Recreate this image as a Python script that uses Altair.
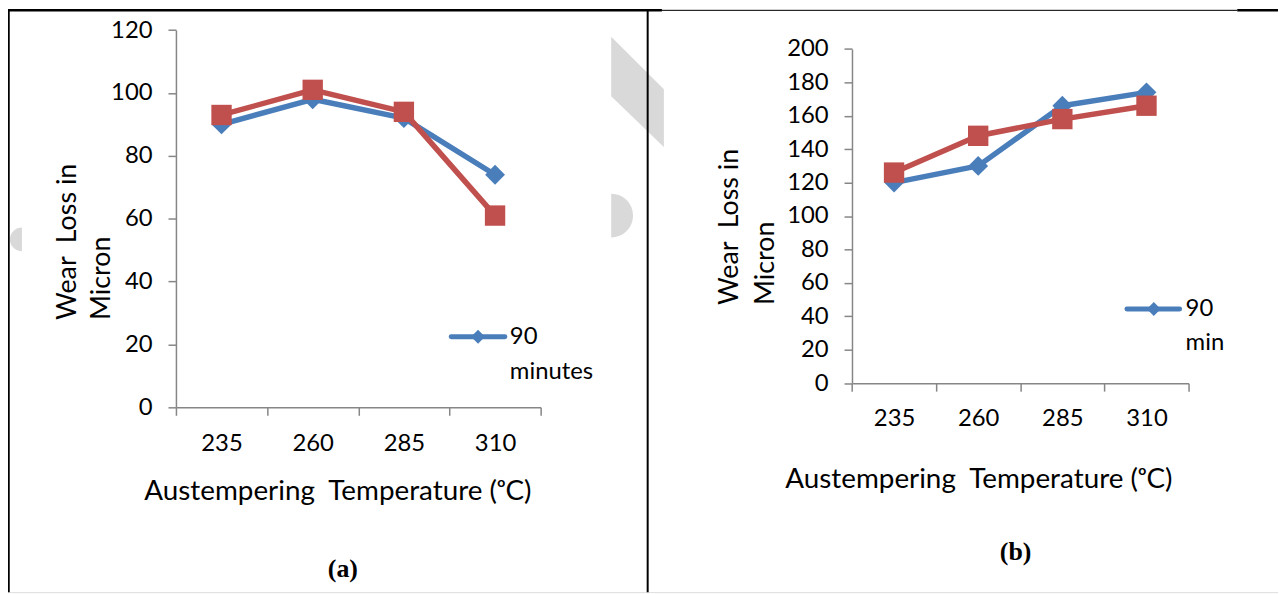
import math
import altair as alt
import pandas as pd

# ---------------- data ----------------
temps = ["235", "260", "285", "310"]
series_names = ["90 minutes", "second series"]
wear_a_90 = [90, 98, 92, 74]
wear_a_2 = [93, 101, 94, 61]
wear_b_90 = [120, 130, 166, 174]
wear_b_2 = [126, 148, 158, 166]
yticks_a = [0, 20, 40, 60, 80, 100, 120]
yticks_b = [0, 20, 40, 60, 80, 100, 120, 140, 160, 180, 200]

BLUE = "#4A7EBB"
RED = "#C0504D"
AXIS_GRAY = "#868686"
WM = "#d9d9d9"
FONT = "Lato"
LBL = 24

W, H = 1278, 586  # view size (page minus 8px margin)


def panel(v90, v2, ydom, yvals, xrange, yrange, xoff, yoff):
    df = pd.DataFrame({
        "temp": temps + temps,
        "wear": v90 + v2,
        "series": [series_names[0]] * 4 + [series_names[1]] * 4,
    })
    x = alt.X("temp:N", sort=temps, bandPosition=0.5,
              scale=alt.Scale(type="band", domain=temps, range=xrange,
                              paddingInner=0, paddingOuter=0),
              axis=alt.Axis(orient="bottom", offset=xoff, tickBand="extent",
                            labelAngle=0, labelFont=FONT, labelFontSize=LBL,
                            labelColor="#000000", labelPadding=16,
                            tickSize=8, tickWidth=1.5, tickColor=AXIS_GRAY,
                            domainColor=AXIS_GRAY, domainWidth=1.5,
                            grid=False, title=""))
    y = alt.Y("wear:Q",
              scale=alt.Scale(domain=ydom, range=yrange, nice=False, zero=True),
              axis=alt.Axis(orient="left", offset=yoff, values=yvals,
                            labelFont=FONT, labelFontSize=LBL,
                            labelColor="#000000", labelPadding=16,
                            tickSize=8, tickWidth=1.5, tickColor=AXIS_GRAY,
                            domainColor=AXIS_GRAY, domainWidth=1.5,
                            grid=False, title=""))
    layers = []
    for s, col, shp, sz in [(series_names[0], BLUE, "diamond", 400),
                            (series_names[1], RED, "square", 420)]:
        base = alt.Chart().transform_filter(alt.datum.series == s)
        layers.append(base.mark_line(color=col, strokeWidth=5.5, strokeJoin="round")
                      .encode(x=x, y=y))
        layers.append(base.mark_point(filled=True, opacity=1, shape=shp, size=sz,
                                      color=col, strokeWidth=0)
                      .encode(x=x, y=y))
    return alt.layer(*layers, data=df)


one = pd.DataFrame({"k": [0]})


def rule(x1, y1, x2, y2, w, col="#000000", cap="butt"):
    return alt.Chart(one).mark_rule(color=col, strokeWidth=w, strokeCap=cap).encode(
        x=alt.value(x1), y=alt.value(y1), x2=alt.value(x2), y2=alt.value(y2))


def text(t, x, y, size=28, align="left", baseline="alphabetic", angle=0,
         font=FONT, weight="normal"):
    return alt.Chart(one).mark_text(text=t, font=font, fontSize=size, align=align,
                                    baseline=baseline, angle=angle, fontWeight=weight,
                                    color="#000000").encode(
        x=alt.value(x), y=alt.value(y))


def half_disc(x, y, r, t0, t1):
    return alt.Chart(one).mark_arc(radius=r, theta=t0, theta2=t1, color=WM).encode(
        x=alt.value(x), y=alt.value(y))


# watermark fragments (background)
band_path = "M-0.482,-1.018L0.482,-0.055L0.482,1L-0.482,0.073Z"
watermark = [
    alt.Chart(one).mark_point(shape=band_path, size=12100, filled=True, opacity=1,
                              color=WM, strokeWidth=0).encode(
        x=alt.value(633.5), y=alt.value(83)),
    half_disc(607, 207, 22, 0, math.pi),
    half_disc(14, 231, 12, math.pi, 2 * math.pi),
]

pa = panel(wear_a_90, wear_a_2, [0, 120], yticks_a, [169, 536], [400, 20.4], -186, -169)
pb = panel(wear_b_90, wear_b_2, [0, 200], yticks_b, [849.3, 1188], [375.7, 39.3], -210.3, -849.3)

NB = "\u00a0"
xtitle = "Austempering" + NB + " Temperature (\u1d52C)"
ytitle1 = "Wear" + NB + " Loss in"
decor = [
    # panel a titles
    text(ytitle1, 68, 312, size=27, angle=270),
    text("Micron", 103, 312, size=27, angle=270),
    text(xtitle, 332, 493, align="center"),
    # panel b titles
    text(ytitle1, 735, 297, size=27, angle=270),
    text("Micron", 771, 297, size=27, angle=270),
    text(xtitle, 977, 481, align="center"),
    # legend a
    rule(446, 329, 500, 329, 5, BLUE, "round"),
    alt.Chart(one).mark_point(shape="diamond", filled=True, opacity=1, size=196,
                              color=BLUE).encode(x=alt.value(473), y=alt.value(329)),
    text("90", 505, 329, size=LBL, baseline="middle"),
    text("minutes", 505, 371, size=LBL),
    # legend b
    rule(1126, 301, 1179, 301, 5, BLUE, "round"),
    alt.Chart(one).mark_point(shape="diamond", filled=True, opacity=1, size=196,
                              color=BLUE).encode(x=alt.value(1153), y=alt.value(301)),
    text("90", 1185, 301, size=LBL, baseline="middle"),
    text("min", 1185, 342, size=LBL),
    # captions
    text("(a)", 337, 563, size=26, align="center", baseline="middle",
         font="Liberation Serif", weight="bold"),
    text("(b)", 1014, 546, size=26, align="center", baseline="middle",
         font="Liberation Serif", weight="bold"),
    # frame
    rule(0, 0.5, 658, 0.5, 2.5),
    rule(644, 0.5, 1237, 0.5, 1),
    rule(1237, 0.5, 1278, 0.5, 2.5),
    rule(0.5, 0, 0.5, H, 2.5),
    rule(643.7, 0, 643.7, H, 2),
]

chart = alt.layer(*watermark, pa, pb, *decor).resolve_scale(
    x="independent", y="independent"
).properties(
    width=W, height=H, padding=0,
    autosize=alt.AutoSizeParams(type="none"),
).configure_view(strokeWidth=0).configure(background="white")

chart.save("out.html", embed_options={"renderer": "svg", "actions": False})
